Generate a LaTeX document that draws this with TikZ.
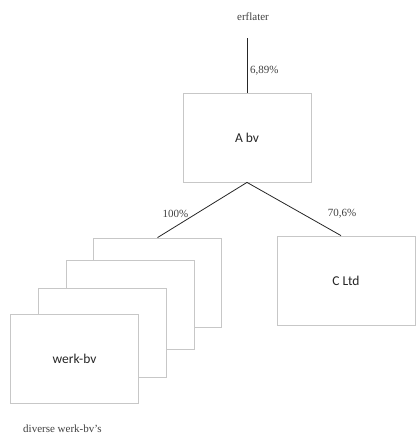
\documentclass[tikz,border=0pt]{standalone}
\usepackage{fontspec}
\setmainfont{Liberation Serif}
\setsansfont{Carlito}
\begin{document}
\begin{tikzpicture}[x=1pt,y=-1pt,
  box/.style={draw=black!22,fill=white,line width=0.8pt,minimum width=#1,inner sep=0pt,font=\sffamily\fontsize{13.5}{16}\selectfont,text=black!85},
  box/.default={128pt},
  lbl/.style={font=\fontsize{11}{13}\selectfont,text=black!75,inner sep=0pt},
  conn/.style={draw=black!85,line width=0.8pt}]
\useasboundingbox (0,0) rectangle (417,434);
\node[lbl] (erf) at (253,17) {erflater};
\coordinate (top) at (247,38);
\node[box={128pt},minimum height=89pt] (A) at (247,137.5) {A bv};
\draw[conn] (top) -- (A.north);
\node[lbl,anchor=west] (p1) at (250,71) {6,89\%};
% stack
\node[box,minimum height=89pt] (w1) at (157.5,282.5) {};
\node[box,minimum height=89pt] (w2) at (130.5,304.5) {};
\node[box,minimum height=89pt] (w3) at (102.5,332.5) {};
\node[box,minimum height=89pt] (w4) at (74.5,358.5) {werk-bv};
\node[box={138pt},minimum height=89pt] (C) at (346,280.5) {C Ltd};
\draw[conn] (A.south) -- (w1.north);
\draw[conn] (A.south) -- ([xshift=-5pt]C.north);
\node[lbl] (p2) at (175.5,214) {100\%};
\node[lbl] (p3) at (342,214) {70,6\%};
\node[lbl,anchor=west] (div) at (23,429) {diverse werk-bv's};
\end{tikzpicture}
\end{document}
